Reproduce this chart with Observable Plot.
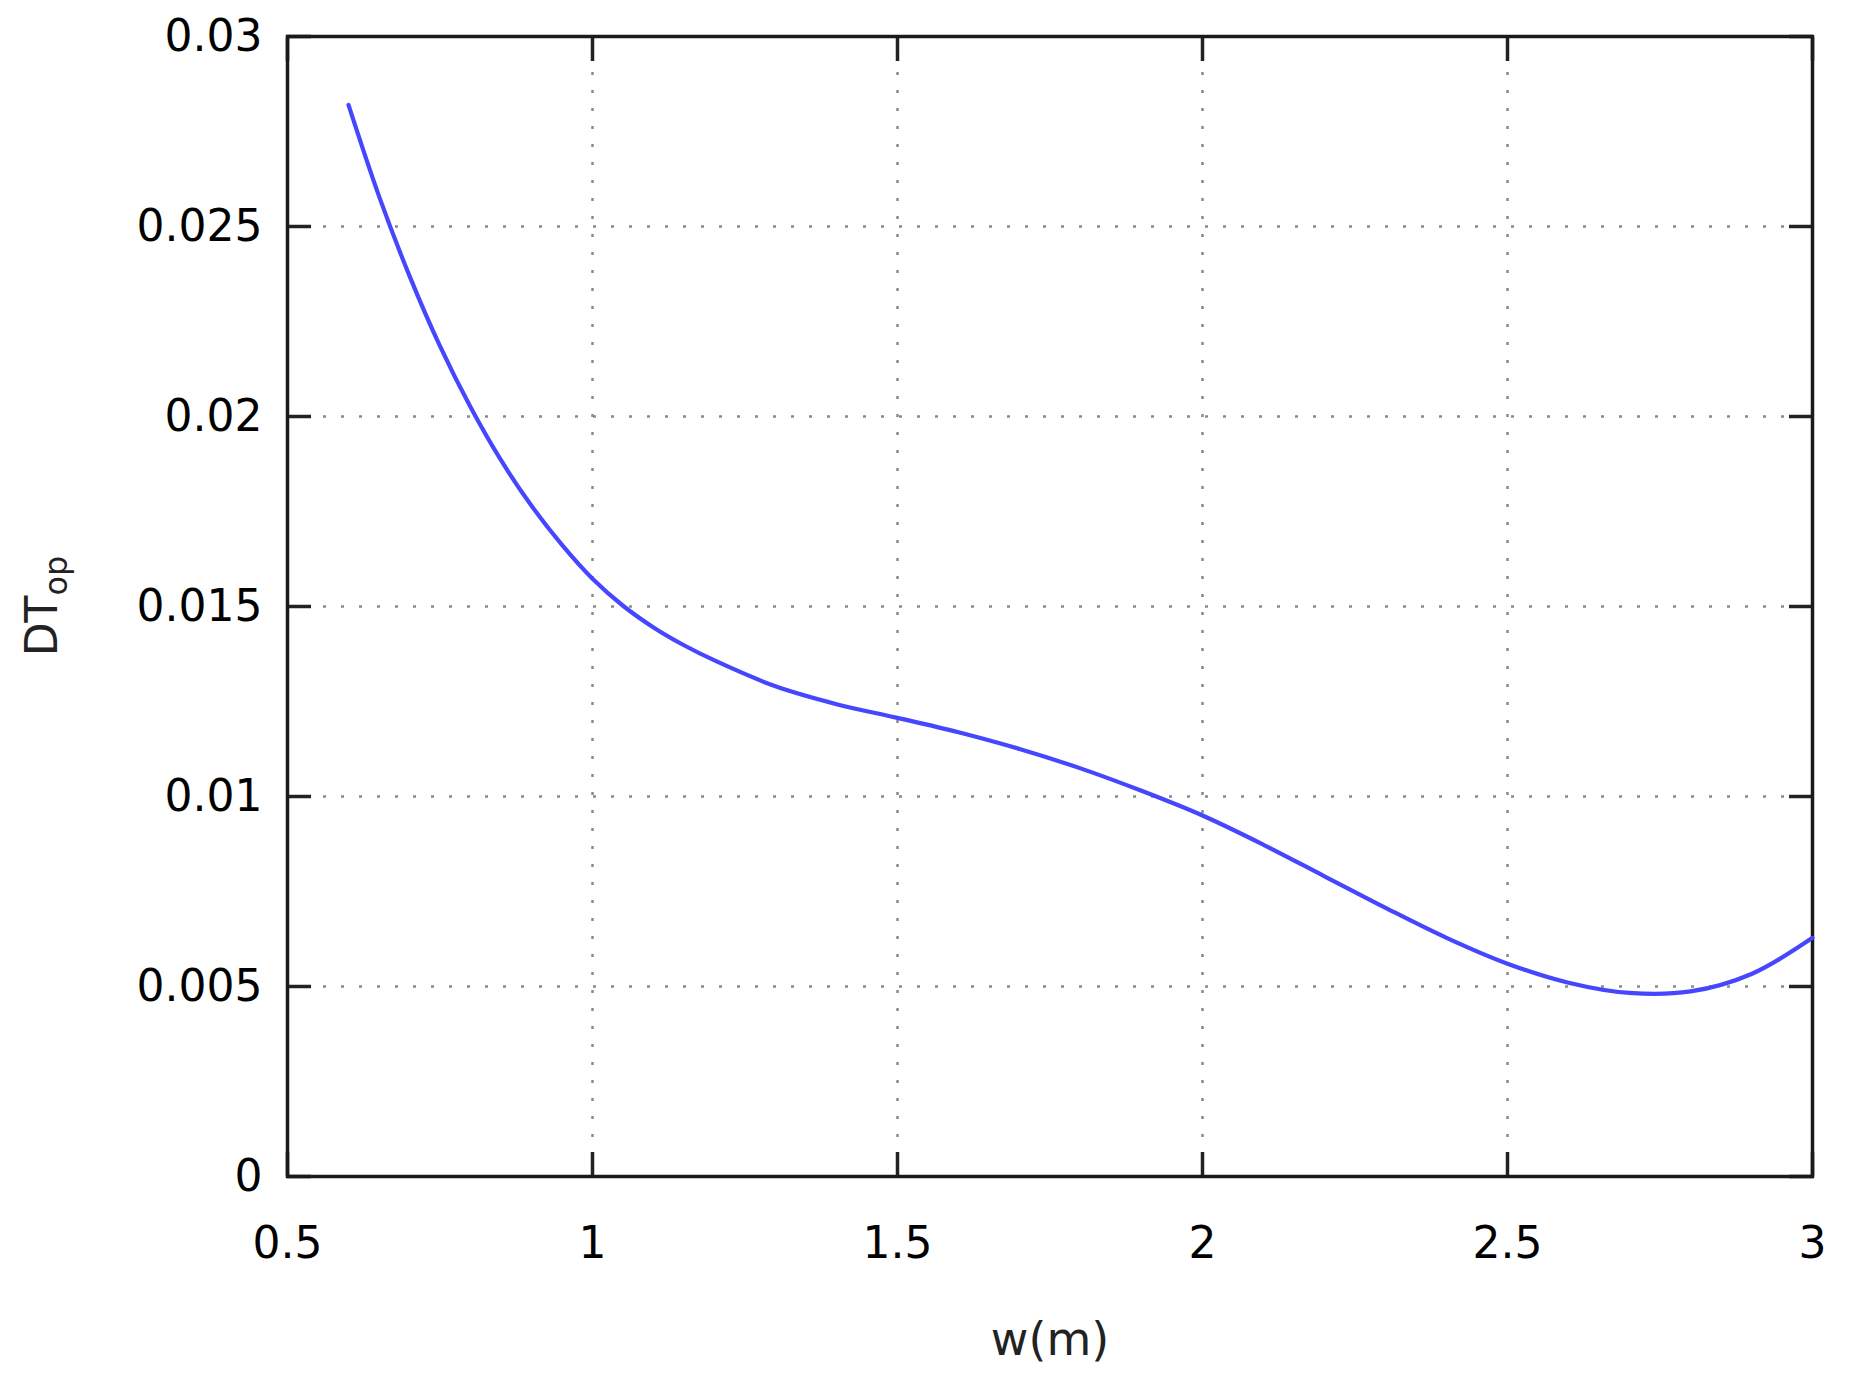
<!DOCTYPE html>
<html>
<head>
<meta charset="utf-8">
<script src="https://cdn.jsdelivr.net/npm/d3@7"></script>
<script src="https://cdn.jsdelivr.net/npm/@observablehq/plot@0.6"></script>
<style>
  html, body { margin: 0; padding: 0; background: #fff; }
  #chart { width: 1850px; height: 1386px; }
</style>
</head>
<body>
<div id="chart"></div>
<script>
const wValues = [0.6, 0.65, 0.7, 0.75, 0.8, 0.85, 0.9, 0.95, 1.0, 1.05, 1.1, 1.15, 1.2, 1.3, 1.4, 1.5, 1.6, 1.7, 1.8, 1.9, 2.0, 2.1, 2.2, 2.3, 2.4, 2.5, 2.6, 2.7, 2.8, 2.9, 3.0];
const dtValues = [0.0282, 0.0258, 0.0237, 0.02185, 0.02025, 0.01885, 0.01765, 0.01662, 0.01573, 0.01502, 0.01445, 0.01398, 0.01358, 0.0129, 0.01243, 0.01207, 0.01169, 0.01125, 0.01074, 0.01015, 0.0095, 0.00873, 0.0079, 0.00707, 0.00628, 0.0056, 0.0051, 0.00483, 0.00487, 0.00533, 0.00628];
const xTicks = [0.5, 1, 1.5, 2, 2.5, 3];
const xTickLabels = ["0.5", "1", "1.5", "2", "2.5", "3"];
const yTicks = [0, 0.005, 0.01, 0.015, 0.02, 0.025, 0.03];
const yTickLabels = ["0", "0.005", "0.01", "0.015", "0.02", "0.025", "0.03"];
const xLabel = "w(m)";
const yLabelMain = "DT";
const yLabelSub = "op";

const data = wValues.map((w, i) => ({w, dt: dtValues[i]}));
const font = "DejaVu Sans";
const mTop = 36, mBottom = 210, mLeft = 287, mRight = 38, H = 1386;

const plot = Plot.plot({
  width: 1850,
  height: H,
  marginLeft: mLeft,
  marginRight: mRight,
  marginTop: mTop,
  marginBottom: mBottom,
  style: {fontFamily: font, background: "#fff", color: "#000"},
  x: {domain: [0.5, 3]},
  y: {domain: [0, 0.03]},
  marks: [
    Plot.gridX(xTicks, {stroke: "#8a8a8a", strokeOpacity: 1, strokeWidth: 2.5, strokeDasharray: "3,15"}),
    Plot.gridY(yTicks, {stroke: "#8a8a8a", strokeOpacity: 1, strokeWidth: 2.5, strokeDasharray: "3,15"}),
    Plot.axisX(xTicks, {anchor: "bottom", tickSize: 0, tickPadding: 50, fontSize: 44, label: null, tickFormat: (d, i) => xTickLabels[i]}),
    Plot.axisY(yTicks, {anchor: "left", tickSize: 0, tickPadding: 25, fontSize: 44, label: null, tickFormat: (d, i) => yTickLabels[i]}),
    Plot.axisX(xTicks, {anchor: "bottom", tickSize: -24, strokeWidth: 3.5, stroke: "#222", label: null, tickFormat: () => ""}),
    Plot.axisX(xTicks, {anchor: "top", tickSize: -24, strokeWidth: 3.5, stroke: "#222", label: null, tickFormat: () => ""}),
    Plot.axisY(yTicks, {anchor: "left", tickSize: -24, strokeWidth: 3.5, stroke: "#222", label: null, tickFormat: () => ""}),
    Plot.axisY(yTicks, {anchor: "right", tickSize: -24, strokeWidth: 3.5, stroke: "#222", label: null, tickFormat: () => ""}),
    Plot.frame({stroke: "#1a1a1a", strokeWidth: 3.5}),
    Plot.line(data, {x: "w", y: "dt", stroke: "#4646ff", strokeWidth: 4.2, curve: "catmull-rom"}),
    Plot.text([xLabel], {frameAnchor: "bottom", dy: 178, fontSize: 46, fill: "#222", text: d => d})
  ]
});

document.getElementById("chart").appendChild(plot);

// Rotated y-axis label with subscript
const svg = d3.select(plot);
const yl = svg.append("text")
  .attr("transform", `translate(57, ${(mTop + (H - mBottom)) / 2}) rotate(-90)`)
  .attr("text-anchor", "middle")
  .attr("font-family", font)
  .attr("font-size", 44)
  .attr("fill", "#222");
yl.append("tspan").text(yLabelMain);
yl.append("tspan").attr("font-size", 32).attr("dy", 10).text(yLabelSub);
</script>
</body>
</html>
